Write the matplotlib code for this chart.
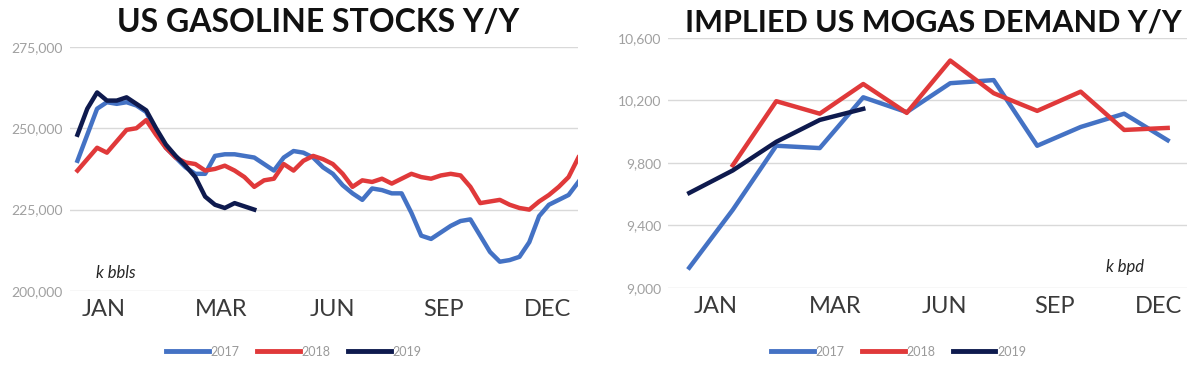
import numpy as np
import matplotlib
matplotlib.use("Agg")
from matplotlib import pyplot as plt
from matplotlib.ticker import FuncFormatter

# Gasoline stocks, weekly, thousand barrels
stocks_2017 = [240, 248, 256, 258, 257.5, 258, 257, 255, 249, 244, 241, 238, 236,
               236, 241.5, 242, 242, 241.5, 241, 239, 237, 241, 243, 242.5, 241,
               238, 236, 232.5, 230, 228, 231.5, 231, 230, 230, 224, 217, 216,
               218, 220, 221.5, 222, 217, 212, 209, 209.5, 210.5, 215, 223, 226.5,
               228, 229.5, 233.5]
stocks_2018 = [237, 240.5, 244, 242.5, 246, 249.5, 250, 252.5, 248, 244, 241,
               239.5, 239, 237, 237.5, 238.5, 237, 235, 232, 234, 234.5, 239, 237,
               240, 241.5, 240.5, 239, 236, 232, 234, 233.5, 234.5, 233, 234.5,
               236, 235, 234.5, 235.5, 236, 235.5, 232, 227, 227.5, 228, 226.5,
               225.5, 225, 227.5, 229.5, 232, 235, 241]
stocks_2019 = [248, 256, 261, 258.5, 258.5, 259.5, 257.5, 255.5, 250, 245, 241.5,
               238.5, 235, 229, 226.5, 225.5, 227, 226, 225]

# Implied mogas demand, monthly, k bpd
demand_2017 = [9130, 9500, 9910, 9895, 10220, 10125, 10310, 10330, 9910, 10030,
               10115, 9945]
demand_2018 = [np.nan, 9785, 10195, 10115, 10305, 10120, 10455, 10246, 10133,
               10256, 10011, 10024]
demand_2019 = [9608, 9752, 9935, 10075, 10146]

years = ["2017", "2018", "2019"]
colors = ["#4472C4", "#E0393A", "#0E1A4E"]
month_labels = ["JAN", "MAR", "JUN", "SEP", "DEC"]

plt.rcParams["font.family"] = ["Lato", "DejaVu Sans"]

fig = plt.figure(figsize=(12, 3.75), dpi=100)
ax1 = fig.add_axes([0.058, 0.224, 0.424, 0.651])
ax2 = fig.add_axes([0.557, 0.232, 0.432, 0.667])


def style(ax):
    for s in ax.spines.values():
        s.set_visible(False)
    ax.grid(axis="y", color="#D9D9D9", lw=1)
    ax.set_axisbelow(True)
    ax.tick_params(axis="y", length=0, labelsize=10, labelcolor="#A0A0A0", pad=5)
    ax.tick_params(axis="x", length=0, labelsize=17, labelcolor="#3A3A3A", pad=6)


# left: stocks
for data, c, y in zip([stocks_2017, stocks_2018, stocks_2019], colors, years):
    ax1.plot(np.arange(len(data)), np.array(data) * 1000, color=c, lw=3.2,
             label=y, solid_joinstyle="round")
style(ax1)
ax1.set_ylim(200000, 275000)
ax1.set_yticks(np.arange(200000, 275001, 25000))
ax1.yaxis.set_major_formatter(FuncFormatter(lambda v, p: f"{v:,.0f}"))
ax1.set_xlim(-0.8, 51)
ax1.set_xticks([2.7, 14.6, 26, 37.3, 47.9])
ax1.set_xticklabels(month_labels)
ax1.text(0.052, 0.075, "k bbls", transform=ax1.transAxes, style="italic",
         va="center", fontsize=12, color="#262626")
fig.text(0.265, 0.915, "US GASOLINE STOCKS Y/Y", ha="center", fontsize=23,
         fontweight="bold", color="#111111")

# right: demand
for data, c, y in zip([demand_2017, demand_2018, demand_2019], colors, years):
    ax2.plot(np.arange(len(data)), data, color=c, lw=3.2, label=y,
             solid_joinstyle="round")
style(ax2)
ax2.set_ylim(9000, 10600)
ax2.set_yticks(np.arange(9000, 10601, 400))
ax2.yaxis.set_major_formatter(FuncFormatter(lambda v, p: f"{v:,.0f}"))
ax2.set_xlim(-0.48, 11.44)
ax2.set_xticks([0.6, 3.36, 5.86, 8.39, 10.78])
ax2.set_xticklabels(month_labels)
ax2.text(0.844, 0.084, "k bpd", transform=ax2.transAxes, style="italic",
         va="center", fontsize=12, color="#262626")
fig.text(0.778, 0.915, "IMPLIED US MOGAS DEMAND Y/Y", ha="center", fontsize=22,
         fontweight="bold", color="#111111")

for ax, cx in [(ax1, 0.245), (ax2, 0.749)]:
    leg = fig.legend(*ax.get_legend_handles_labels(), loc="center",
                     bbox_to_anchor=(cx, 0.062), ncol=3, frameon=False,
                     fontsize=9, handlelength=3.4, handletextpad=0.15,
                     columnspacing=1.4, labelcolor="#9A9A9A")
    for h in leg.get_lines():
        h.set_linewidth(3.5)

fig.savefig("out.png", dpi=100)
